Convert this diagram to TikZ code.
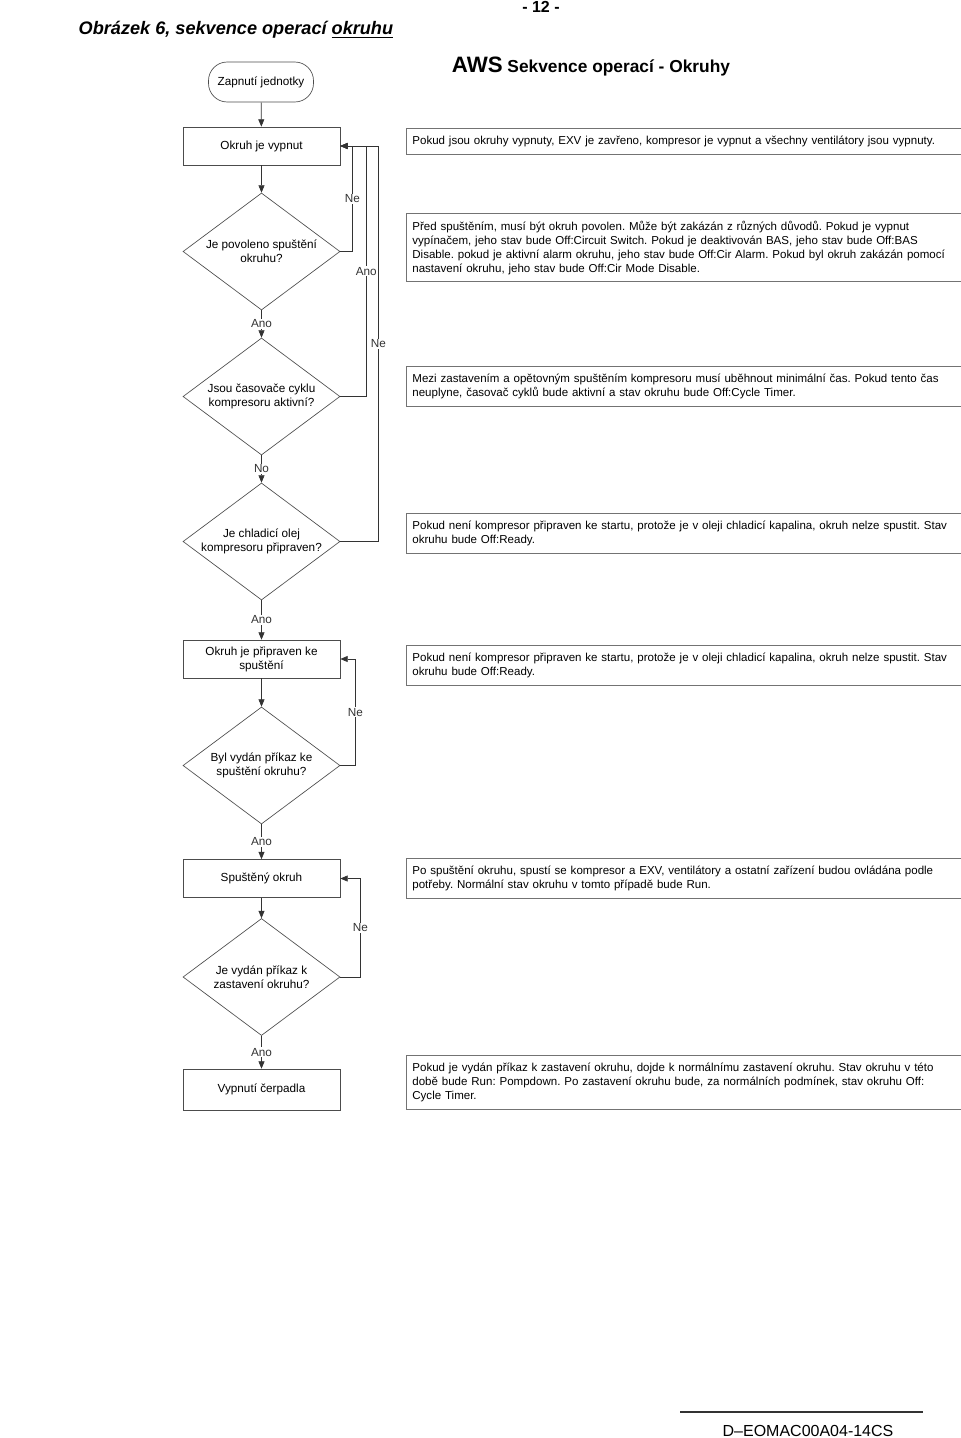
\documentclass[tikz,border=0pt]{standalone}
\usepackage{fontspec}
\setmainfont{Liberation Sans}
\usetikzlibrary{arrows.meta, shapes.geometric}
\frenchspacing

\begin{document}
\begin{tikzpicture}[
  x=0.75pt, y=-0.75pt,
  font=\fontsize{8.8}{10.5}\selectfont,
  flowbox/.style={rectangle, draw=black!70, line width=0.5pt, minimum width=117.75pt,
                  minimum height=28.5pt, align=center, inner sep=2pt},
  decision/.style={diamond, draw=black!70, line width=0.5pt, aspect=1.34, minimum width=117.75pt,
                   minimum height=87.75pt, inner sep=0pt, align=center},
  startbox/.style={rectangle, rounded corners=14pt, draw=black!70, line width=0.5pt,
                   minimum width=78.75pt, minimum height=30pt, align=center},
  notebox/.style={rectangle, draw=black!55, line width=0.6pt, anchor=north west, text width=440pt,
                  inner xsep=4.5pt, inner ysep=5.5pt, align=left, font=\fontsize{8.65}{10.5}\selectfont},
  arrow/.style={-{Triangle[length=5.5pt, width=4.5pt]}, black!80, line width=0.5pt},
  lbl/.style={fill=white, inner sep=0.8pt},
]
  \useasboundingbox (0,0) rectangle (960,1438);

  % headings
  \node[anchor=west, font=\fontsize{13.6}{16}\selectfont\bfseries\itshape] (figtitle) at (74,30)
    {Obrázek 6, sekvence operací \underline{okruhu}};
  \node[font=\fontsize{12}{14}\selectfont\bfseries] (pagenum) at (541,7) {- 12 -};
  \node[font=\fontsize{13}{15}\selectfont\bfseries] (heading) at (591,67)
    {{\fontsize{16.7}{18}\selectfont AWS} Sekvence operací - Okruhy};

  % flow
  \node[startbox] (start) at (261,82) {Zapnutí jednotky};
  \node[flowbox] (off) at (261.5,146) {Okruh je vypnut};
  \node[decision] (enable) at (261.5,251.5) {Je povoleno spuštění\\okruhu?};
  \node[decision] (timer) at (261.5,396.5) {Jsou časovače cyklu\\kompresoru aktivní?};
  \node[decision] (oil) at (261.5,541.5) {Je chladicí olej\\kompresoru připraven?};
  \node[flowbox] (ready) at (261.5,659) {Okruh je připraven ke\\spuštění};
  \node[decision] (startcmd) at (261.5,765.5) {Byl vydán příkaz ke\\spuštění okruhu?};
  \node[flowbox] (run) at (261.5,878.5) {Spuštěný okruh};
  \node[decision] (stopcmd) at (261.5,977) {Je vydán příkaz k\\zastavení okruhu?};
  \node[flowbox, minimum height=30.75pt] (pump) at (261.5,1089.5) {Vypnutí čerpadla};

  % notes
  \node[notebox] (offnote) at (406,128)
    {Pokud jsou okruhy vypnuty, EXV je zavřeno, kompresor je vypnut a všechny ventilátory jsou vypnuty.};
  \node[notebox] (enablenote) at (406,213)
    {Před spuštěním, musí být okruh povolen. Může být zakázán z různých důvodů. Pokud je vypnut\\
     vypínačem, jeho stav bude Off:Circuit Switch. Pokud je deaktivován BAS, jeho stav bude Off:BAS\\
     Disable. pokud je aktivní alarm okruhu, jeho stav bude Off:Cir Alarm. Pokud byl okruh zakázán pomocí\\
     nastavení okruhu, jeho stav bude Off:Cir Mode Disable.};
  \node[notebox] (timernote) at (406,366)
    {Mezi zastavením a opětovným spuštěním kompresoru musí uběhnout minimální čas. Pokud tento čas\\
     neuplyne, časovač cyklů bude aktivní a stav okruhu bude Off:Cycle Timer.};
  \node[notebox] (oilnote) at (406,513)
    {Pokud není kompresor připraven ke startu, protože je v oleji chladicí kapalina, okruh nelze spustit. Stav\\
     okruhu bude Off:Ready.};
  \node[notebox] (readynote) at (406,645)
    {Pokud není kompresor připraven ke startu, protože je v oleji chladicí kapalina, okruh nelze spustit. Stav\\
     okruhu bude Off:Ready.};
  \node[notebox] (runnote) at (406,858)
    {Po spuštění okruhu, spustí se kompresor a EXV, ventilátory a ostatní zařízení budou ovládána podle\\
     potřeby. Normální stav okruhu v tomto případě bude Run.};
  \node[notebox] (pumpnote) at (406,1055)
    {Pokud je vydán příkaz k zastavení okruhu, dojde k normálnímu zastavení okruhu. Stav okruhu v této\\
     době bude Run: Pompdown. Po zastavení okruhu bude, za normálních podmínek, stav okruhu Off:\\
     Cycle Timer.};

  \draw[arrow] (start) -- (off);
  \draw[arrow] (off) -- (enable);
  \draw[arrow] (enable) -- node[lbl] {Ano} (timer);
  \draw[arrow] (timer) -- node[lbl] {No} (oil);
  \draw[arrow] (oil) -- node[lbl] {Ano} (ready);
  \draw[arrow] (ready) -- (startcmd);
  \draw[arrow] (startcmd) -- node[lbl] {Ano} (run);
  \draw[arrow] (run) -- (stopcmd);
  \draw[arrow] (stopcmd) -- node[lbl] {Ano} (pump);

  % back loops
  \draw[arrow] (enable.east) -- ++(12,0) |- node[lbl, pos=0.25] {Ne} (off.east);
  \draw[arrow] (timer.east) -- ++(26,0) |- node[lbl, pos=0.25] {Ano} (off.east);
  \draw[arrow] (oil.east) -- ++(38,0) |- node[lbl, pos=0.25] {Ne} (off.east);
  \draw[arrow] (startcmd.east) -- ++(15,0) |- node[lbl, pos=0.25] {Ne} (ready.east);
  \draw[arrow] (stopcmd.east) -- ++(20,0) |- node[lbl, pos=0.25] {Ne} (run.east);

  % footer
  \draw[black!80, line width=0.8pt] (680,1412) -- (923,1412);
  \node[font=\fontsize{12}{14}\selectfont] (docid) at (808,1431) {D–EOMAC00A04-14CS};
\end{tikzpicture}
\end{document}
